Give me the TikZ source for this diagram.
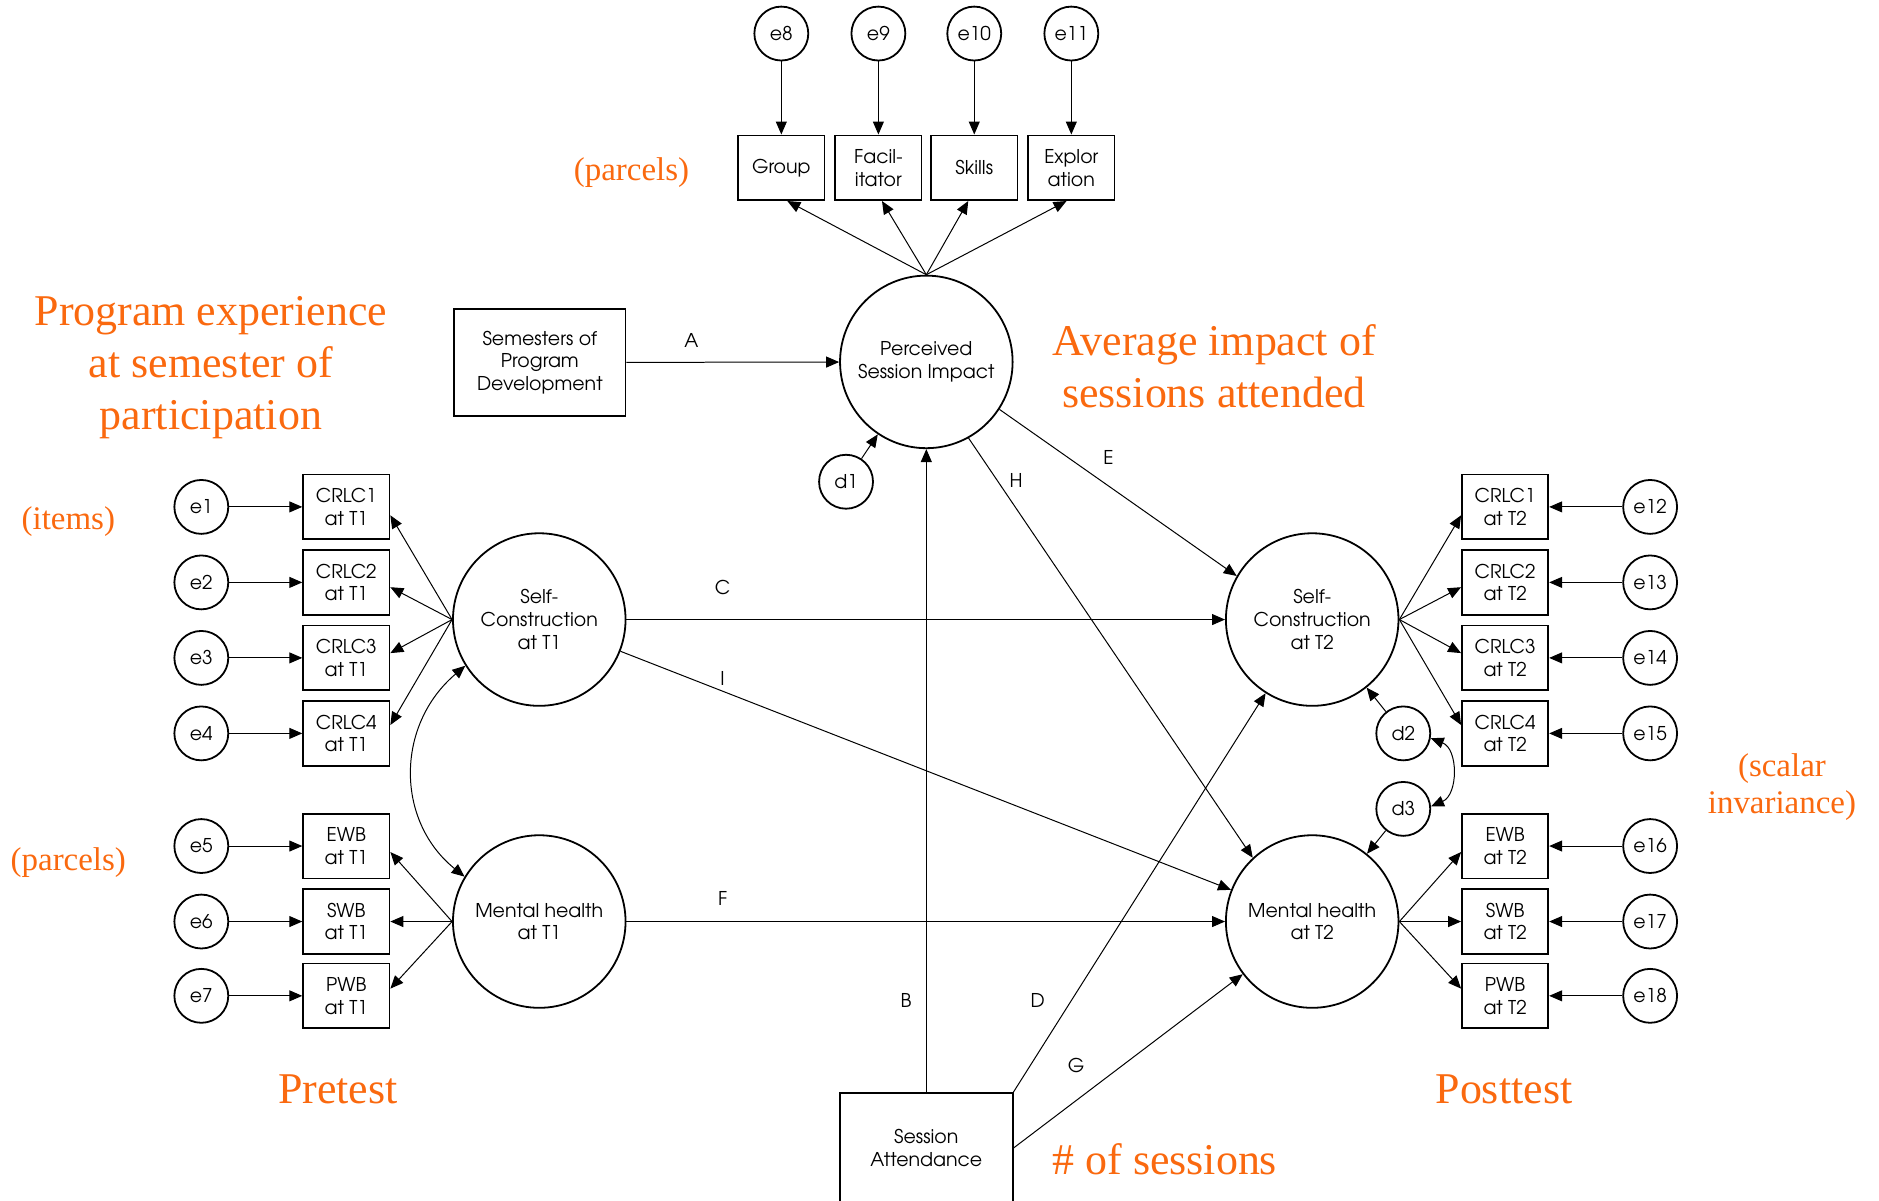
\documentclass[tikz,border=0pt]{standalone}
\usepackage{fontspec}
\setmainfont{TeX Gyre Adventor}
\newfontfamily\orfont{Liberation Serif}
\usetikzlibrary{arrows.meta,calc}
\definecolor{orng}{RGB}{250,105,15}
\begin{document}
\begin{tikzpicture}[x=0.6pt,y=-0.6pt,
  font=\fontsize{9.5}{11.4}\selectfont,
  lat/.style={circle,draw,line width=0.9pt,minimum size=86.4pt,inner sep=0pt,align=center},
  err/.style={circle,draw,line width=0.9pt,minimum size=27pt,inner sep=0pt},
  obs/.style={rectangle,draw,line width=0.9pt,minimum width=43.2pt,minimum height=32.4pt,inner sep=0pt,align=center},
  arr/.style={-{Triangle[length=6.5pt,width=5.5pt]},line width=0.5pt},
  darr/.style={{Triangle[length=6.5pt,width=5.5pt]}-{Triangle[length=6.5pt,width=5.5pt]},line width=0.5pt},
  lbl/.style={inner sep=0pt},
  ornote/.style={text=orng,font=\orfont\fontsize{22}{26}\selectfont,align=center,inner sep=0pt},
  orsmall/.style={text=orng,font=\orfont\fontsize{16.5}{18.6}\selectfont,align=center,inner sep=0pt}
]
\useasboundingbox (0,0) rectangle (1568,1002);

% latent variables
\node[lat] (psi) at (773,302) {Perceived\\Session Impact};
\node[lat] (scT1) at (450,517) {Self-\\Construction\\at T1};
\node[lat] (mhT1) at (450,769) {Mental health\\at T1};
\node[lat] (scT2) at (1095,517) {Self-\\Construction\\at T2};
\node[lat] (mhT2) at (1095,769) {Mental health\\at T2};

% observed predictors
\node[obs,minimum width=85.8pt,minimum height=53.4pt] (sem) at (450.5,302.5) {Semesters of\\Program\\Development};
\node[obs,minimum width=86.4pt,minimum height=55.2pt] (att) at (773,958) {Session\\Attendance};

% top parcels
\node[obs] (g) at (652,140) {Group};
\node[obs] (f) at (733,140) {Facil-\\itator};
\node[obs] (s) at (813,140) {Skills};
\node[obs] (x) at (894,140) {Explor\\ation};
\node[err] (e8) at (652,28) {e8};
\node[err] (e9) at (733,28) {e9};
\node[err] (e10) at (813,28) {e10};
\node[err] (e11) at (894,28) {e11};

% left indicators
\node[obs] (c1) at (289,423) {CRLC1\\at T1};
\node[obs] (c2) at (289,486) {CRLC2\\at T1};
\node[obs] (c3) at (289,549) {CRLC3\\at T1};
\node[obs] (c4) at (289,612) {CRLC4\\at T1};
\node[obs] (w1) at (289,706) {EWB\\at T1};
\node[obs] (w2) at (289,769) {SWB\\at T1};
\node[obs] (w3) at (289,831) {PWB\\at T1};
\node[err] (e1) at (168,423) {e1};
\node[err] (e2) at (168,486) {e2};
\node[err] (e3) at (168,549) {e3};
\node[err] (e4) at (168,612) {e4};
\node[err] (e5) at (168,706) {e5};
\node[err] (e6) at (168,769) {e6};
\node[err] (e7) at (168,831) {e7};

% right indicators
\node[obs] (k1) at (1256,423) {CRLC1\\at T2};
\node[obs] (k2) at (1256,486) {CRLC2\\at T2};
\node[obs] (k3) at (1256,549) {CRLC3\\at T2};
\node[obs] (k4) at (1256,612) {CRLC4\\at T2};
\node[obs] (v1) at (1256,706) {EWB\\at T2};
\node[obs] (v2) at (1256,769) {SWB\\at T2};
\node[obs] (v3) at (1256,831) {PWB\\at T2};
\node[err] (e12) at (1377,423) {e12};
\node[err] (e13) at (1377,486) {e13};
\node[err] (e14) at (1377,549) {e14};
\node[err] (e15) at (1377,612) {e15};
\node[err] (e16) at (1377,706) {e16};
\node[err] (e17) at (1377,769) {e17};
\node[err] (e18) at (1377,831) {e18};

% disturbances
\node[err] (d1) at (706,402) {d1};
\node[err] (d2) at (1171,612) {d2};
\node[err] (d3) at (1171,675) {d3};

% error arrows
\foreach \a/\b in {e8/g,e9/f,e10/s,e11/x,e1/c1,e2/c2,e3/c3,e4/c4,e5/w1,e6/w2,e7/w3,e12/k1,e13/k2,e14/k3,e15/k4,e16/v1,e17/v2,e18/v3}
  \draw[arr] (\a) -- (\b);

% top loadings
\draw[arr] (psi.north) -- ($(g.south)+(5,0)$);
\draw[arr] (psi.north) -- ($(f.south)+(3,0)$);
\draw[arr] (psi.north) -- ($(s.south)+(-5,0)$);
\draw[arr] (psi.north) -- ($(x.south)+(-4,0)$);

% left loadings
\draw[arr] (scT1.west) -- ($(c1.east)+(0,7)$);
\draw[arr] (scT1.west) -- ($(c2.east)+(0,4)$);
\draw[arr] (scT1.west) -- ($(c3.east)+(0,-4)$);
\draw[arr] (scT1.west) -- ($(c4.east)+(0,-7)$);
\draw[arr] (mhT1.west) -- ($(w1.east)+(0,5)$);
\draw[arr] (mhT1.west) -- (w2.east);
\draw[arr] (mhT1.west) -- ($(w3.east)+(0,-6)$);

% right loadings
\draw[arr] (scT2.east) -- ($(k1.west)+(0,7)$);
\draw[arr] (scT2.east) -- ($(k2.west)+(0,4)$);
\draw[arr] (scT2.east) -- ($(k3.west)+(0,-4)$);
\draw[arr] (scT2.east) -- ($(k4.west)+(0,-7)$);
\draw[arr] (mhT2.east) -- ($(v1.west)+(0,5)$);
\draw[arr] (mhT2.east) -- (v2.west);
\draw[arr] (mhT2.east) -- ($(v3.west)+(0,-6)$);

% structural paths
\draw[arr] (sem) -- (psi);
\draw[arr] (att.north) -- (psi.south);
\draw[arr] (att.north east) -- (scT2);
\draw[arr] (att.east) -- (mhT2);
\draw[arr] (psi.-33) -- (scT2.150);
\draw[arr] (psi.-61) -- (mhT2.133);
\draw[arr] (scT1) -- (scT2);
\draw[arr] (scT1) -- (mhT2);
\draw[arr] (mhT1) -- (mhT2);
\draw[arr] (d1) -- (psi);
\draw[arr] (d2) -- (scT2);
\draw[arr] (d3) -- (mhT2);

% covariances
\draw[darr] (scT1.212) .. controls (330,605) and (330,685) .. (mhT1.149);
\draw[darr] (d2.-10) .. controls (1217,625) and (1217,663) .. (d3.5);

% path labels
\node[lbl] (lA) at (577,284) {A};
\node[lbl] (lB) at (756,835) {B};
\node[lbl] (lC) at (603,490) {C};
\node[lbl] (lD) at (866,835) {D};
\node[lbl] (lE) at (925,382) {E};
\node[lbl] (lF) at (603,750) {F};
\node[lbl] (lG) at (898,889) {G};
\node[lbl] (lH) at (848,401) {H};
\node[lbl] (lI) at (603,566) {I};

% orange annotations
\node[orsmall] (n1) at (527,144) {(parcels)};
\node[ornote] (n2) at (176,307) {Program experience\\at semester of\\participation};
\node[ornote] (n3) at (1013,306) {Average impact of\\sessions attended};
\node[orsmall] (n4) at (57,435) {(items)};
\node[orsmall] (n5) at (57,720) {(parcels)};
\node[orsmall] (n6) at (1487,657) {(scalar\\invariance)};
\node[ornote] (n7) at (282,909) {Pretest};
\node[ornote] (n8) at (1255,909) {Posttest};
\node[ornote] (n9) at (972,967) {\# of sessions};
\end{tikzpicture}
\end{document}
